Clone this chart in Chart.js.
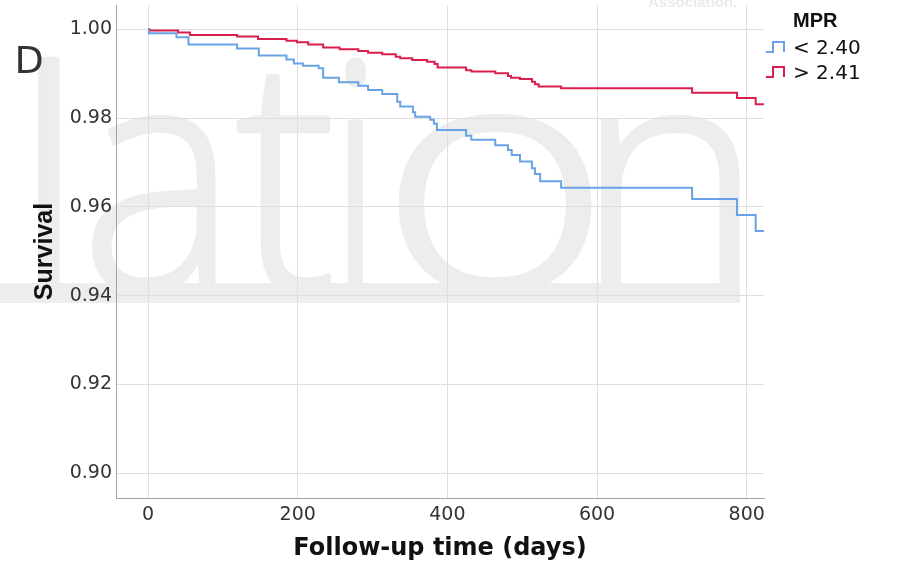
<!DOCTYPE html>
<html>
<head>
<meta charset="utf-8">
<script src="https://cdn.jsdelivr.net/npm/chart.js@4/dist/chart.umd.min.js"></script>
<style>
  html, body { margin: 0; padding: 0; background: #ffffff; }
  canvas { display: block; }
</style>
</head>
<body>
<canvas id="c" width="901" height="564"></canvas>
<script>
// ---- data ----
const seriesNames = ['< 2.40', '> 2.41'];
const legendTitle = 'MPR';
const xTitle = 'Follow-up time (days)';
const yTitle = 'Survival';
const panelLabel = 'D';

const lowDays = [0, 1, 38, 54, 119, 148, 185, 195, 207, 228, 234, 255, 281, 294, 313, 333, 337, 354, 357, 377, 382, 386, 425, 432, 464, 481, 486, 497, 513, 517, 524, 552, 727, 787, 812, 823];
const lowSurv = [1.0, 0.9991, 0.9982, 0.9966, 0.9957, 0.9941, 0.9932, 0.9923, 0.9918, 0.9912, 0.9891, 0.9881, 0.9873, 0.9863, 0.9854, 0.9837, 0.9826, 0.9813, 0.9803, 0.9796, 0.9787, 0.9773, 0.9760, 0.9751, 0.9739, 0.9728, 0.9717, 0.9702, 0.9687, 0.9674, 0.9658, 0.9643, 0.9618, 0.9582, 0.9546, 0.9546];

const highDays = [0, 2, 40, 56, 119, 147, 185, 199, 214, 234, 256, 281, 294, 313, 331, 337, 353, 373, 383, 387, 425, 432, 464, 481, 485, 497, 513, 517, 522, 552, 727, 787, 812, 823];
const highSurv = [1.0, 0.9997, 0.9993, 0.9987, 0.9984, 0.9978, 0.9974, 0.9971, 0.9966, 0.9959, 0.9955, 0.9951, 0.9947, 0.9944, 0.9938, 0.9935, 0.9931, 0.9927, 0.9922, 0.9914, 0.9908, 0.9905, 0.9901, 0.9895, 0.9891, 0.9888, 0.9882, 0.9876, 0.9871, 0.9867, 0.9857, 0.9845, 0.9831, 0.9831];

const xTicks = [0, 200, 400, 600, 800];
const yTicks = [0.90, 0.92, 0.94, 0.96, 0.98, 1.00];

// ---- styles ----
const BLUE = '#69a3e6';
const RED = '#da1f4e';
const colors = [BLUE, RED];

function toPoints(xs, ys) { return xs.map((x, i) => ({ x: x, y: ys[i] })); }

const watermark = {
  id: 'watermark',
  beforeDraw(chart) {
    const c = chart.ctx;
    c.save();
    c.fillStyle = '#ededed';
    c.strokeStyle = '#ededed';
    c.lineWidth = 4;
    c.lineJoin = 'round';
    c.font = "300 300px 'Open Sans'";
    c.textBaseline = 'alphabetic';
    c.textAlign = 'left';
    const base = 290;
    // letter, ink left, ink right, ink top
    const letters = [['l', 37, 58, 57], ['a', 94, 215, 115], ['t', 235, 330, 72], ['i', 347, 366, 57], ['o', 397, 590, 114], ['n', 600, 740, 115]];
    letters.forEach(([ch, l, r, top]) => {
      const m = c.measureText(ch);
      const inkL = -m.actualBoundingBoxLeft;
      const inkW = m.actualBoundingBoxRight + m.actualBoundingBoxLeft;
      const sx = (r - l) / inkW;
      const sy = (base - top) / m.actualBoundingBoxAscent;
      c.save();
      c.translate(l, base);
      c.scale(sx, sy);
      c.fillText(ch, -inkL, 0);
      c.strokeText(ch, -inkL, 0);
      c.restore();
    });
    c.fillRect(0, 283, 740, 20);
    c.fillStyle = '#ebebeb';
    c.font = "bold 15px 'Liberation Sans'";
    c.fillText('Association.', 648, 7);
    c.restore();
  }
};

const overlay = {
  id: 'overlay',
  afterDraw(chart) {
    const c = chart.ctx;
    c.save();
    // panel label
    c.fillStyle = '#333333';
    c.font = "38px 'DejaVu Sans'";
    c.textBaseline = 'alphabetic';
    c.textAlign = 'left';
    c.fillText(panelLabel, 14.5, 73);
    // legend
    c.fillStyle = '#111111';
    c.font = "bold 20px 'Liberation Sans'";
    c.textBaseline = 'middle';
    c.fillText(legendTitle, 793, 21);
    const rows = [49, 74];
    c.font = "20px 'DejaVu Sans'";
    seriesNames.forEach((name, i) => {
      const y = rows[i];
      c.strokeStyle = colors[i];
      c.lineWidth = 2;
      c.beginPath();
      c.moveTo(766, y + 3);
      c.lineTo(773, y + 3);
      c.lineTo(773, y - 7);
      c.lineTo(784, y - 7);
      c.lineTo(784, y + 3);
      c.stroke();
      c.fillStyle = '#111111';
      c.fillText(name, 793, y);
    });
    c.restore();
  }
};

const ctx = document.getElementById('c').getContext('2d');
new Chart(ctx, {
  type: 'line',
  data: {
    datasets: [
      { label: seriesNames[0], data: toPoints(lowDays, lowSurv), borderColor: BLUE, borderWidth: 2,
        stepped: 'before', pointRadius: 0, fill: false, tension: 0 },
      { label: seriesNames[1], data: toPoints(highDays, highSurv), borderColor: RED, borderWidth: 2,
        stepped: 'before', pointRadius: 0, fill: false, tension: 0 }
    ]
  },
  options: {
    responsive: false,
    animation: false,
    devicePixelRatio: 1,
    layout: { padding: { left: 0, right: 137, top: 5, bottom: 0 } },
    plugins: { legend: { display: false }, tooltip: { enabled: false } },
    scales: {
      x: {
        type: 'linear', min: -42.8, max: 823.1,
        afterBuildTicks: s => { s.ticks = xTicks.map(v => ({ value: v })); },
        afterFit: s => { s.height = 66; s.paddingLeft = 0; s.paddingRight = 0; },
        grid: { color: '#dedede', lineWidth: 1, drawTicks: false },
        border: { color: '#a3a3a3', width: 1 },
        ticks: { font: { family: 'DejaVu Sans', size: 19 }, color: '#333333', padding: 6, maxRotation: 0,
          callback: v => String(v) },
        title: { display: true, text: xTitle, color: '#111111',
          font: { family: 'DejaVu Sans', weight: 'bold', size: 24 }, padding: { top: 0, bottom: 1 } }
      },
      y: {
        type: 'linear', min: 0.89444, max: 1.00547,
        afterBuildTicks: s => { s.ticks = yTicks.map(v => ({ value: v })); },
        afterFit: s => { s.width = 116; s.paddingTop = 0; s.paddingBottom = 0; },
        grid: { color: '#dedede', lineWidth: 1, drawTicks: false },
        border: { color: '#a3a3a3', width: 1 },
        ticks: { font: { family: 'DejaVu Sans', size: 19 }, color: '#333333', padding: 4,
          callback: v => Number(v).toFixed(2) },
        title: { display: true, text: yTitle, color: '#111111',
          font: { family: 'Liberation Sans', weight: 'bold', size: 25 }, padding: { top: 30, bottom: 0 } }
      }
    }
  },
  plugins: [watermark, overlay]
});
</script>
</body>
</html>
